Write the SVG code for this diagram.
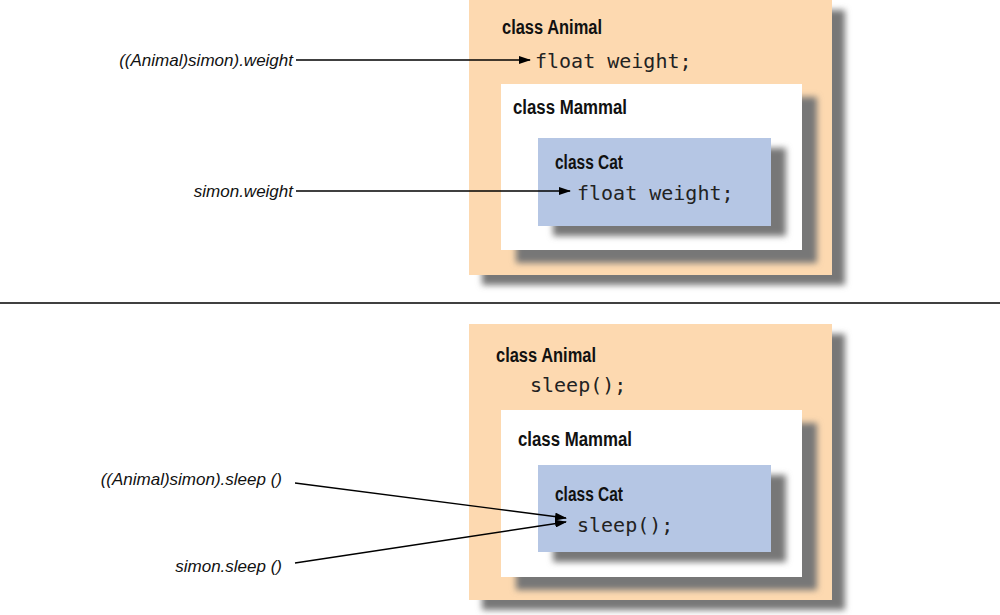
<svg xmlns="http://www.w3.org/2000/svg" width="1000" height="615" viewBox="0 0 1000 615">
<style>
.h{font-family:"Liberation Sans",Arial,sans-serif;font-weight:bold;font-size:20px;fill:#111}
.m{font-family:"DejaVu Sans Mono","Liberation Mono",monospace;font-size:20px;fill:#222}
.l{font-family:"Liberation Sans",Arial,sans-serif;font-style:italic;font-size:17px;fill:#111;text-anchor:end}
.sh{fill:#777;filter:url(#b)}
.c{stroke:#000;stroke-width:1.3;fill:none;marker-end:url(#a)}
</style>
<defs>
<filter id="b" x="-10%" y="-10%" width="120%" height="120%"><feGaussianBlur stdDeviation="3"/></filter>
<marker id="a" markerWidth="12" markerHeight="8" refX="11" refY="4" orient="auto" markerUnits="userSpaceOnUse"><path d="M0,0L12,4L0,8z" fill="#000"/></marker>
</defs>
<rect width="1000" height="615" fill="#fff"/>
<g id="top-animal">
<rect class="sh" x="482" y="10" width="363" height="275"/>
<rect x="469" y="0" width="363" height="275" fill="#fdd9b0"/>
<text class="h" x="502" y="34" textLength="100" lengthAdjust="spacingAndGlyphs">class Animal</text>
<text class="m" x="535" y="68">float weight;</text>
</g>
<g id="top-mammal">
<rect class="sh" x="516" y="97" width="301" height="166"/>
<rect x="501" y="84" width="301" height="166" fill="#fff"/>
<text class="h" x="513" y="114" textLength="114" lengthAdjust="spacingAndGlyphs">class Mammal</text>
</g>
<g id="top-cat">
<rect class="sh" x="553" y="148" width="233" height="88"/>
<rect x="538" y="138" width="233" height="88" fill="#b5c6e4"/>
<text class="h" x="555" y="169" textLength="68" lengthAdjust="spacingAndGlyphs">class Cat</text>
<text class="m" x="577" y="200">float weight;</text>
</g>
<line x1="0" y1="303" x2="1000" y2="303" stroke="#000" stroke-width="1.3"/>
<g id="bot-animal">
<rect class="sh" x="482" y="334" width="363" height="276"/>
<rect x="469" y="324" width="363" height="276" fill="#fdd9b0"/>
<text class="h" x="496" y="362" textLength="100" lengthAdjust="spacingAndGlyphs">class Animal</text>
<text class="m" x="530" y="392">sleep();</text>
</g>
<g id="bot-mammal">
<rect class="sh" x="516" y="423" width="301" height="167"/>
<rect x="501" y="410" width="301" height="167" fill="#fff"/>
<text class="h" x="518" y="446" textLength="114" lengthAdjust="spacingAndGlyphs">class Mammal</text>
</g>
<g id="bot-cat">
<rect class="sh" x="553" y="475" width="233" height="87"/>
<rect x="538" y="465" width="233" height="87" fill="#b5c6e4"/>
<text class="h" x="555" y="501" textLength="68" lengthAdjust="spacingAndGlyphs">class Cat</text>
<text class="m" x="577" y="532">sleep();</text>
</g>
<g id="labels">
<text class="l" x="293" y="66">((Animal)simon).weight</text>
<text class="l" x="293" y="197">simon.weight</text>
<text class="l" x="282" y="485">((Animal)simon).sleep ()</text>
<text class="l" x="282" y="572">simon.sleep ()</text>
</g>
<g id="connectors">
<path class="c" d="M296,60H530"/>
<path class="c" d="M296,191H570"/>
<path class="c" d="M295,483L566,518"/>
<path class="c" d="M295,563L566,522"/>
</g>
</svg>
